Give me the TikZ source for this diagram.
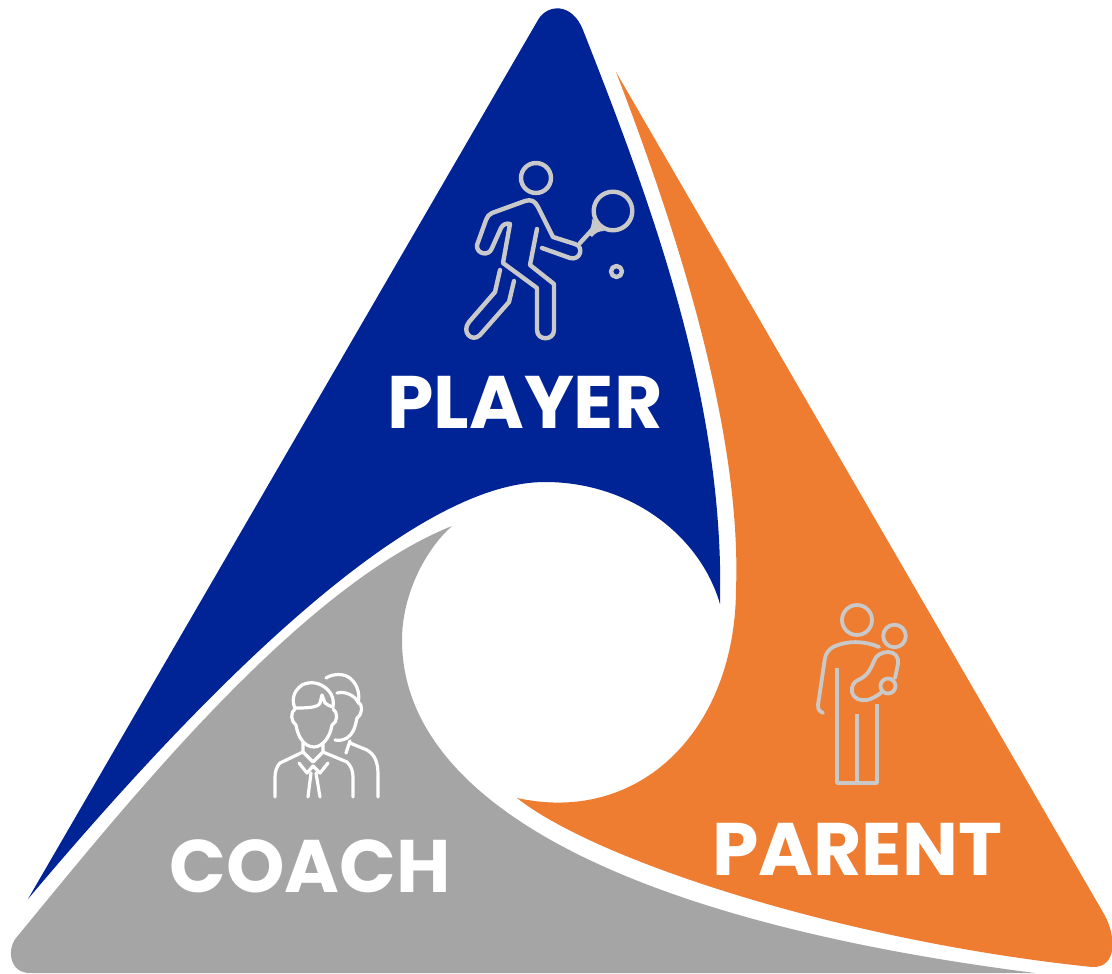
\documentclass[tikz,border=0pt]{standalone}
\usepackage{fontspec}
\setmainfont{Poppins}[BoldFont={Poppins Bold}]
\definecolor{pblue}{HTML}{002395}
\definecolor{porange}{HTML}{EE7D31}
\definecolor{pgray}{HTML}{A5A5A5}
\definecolor{iconline}{HTML}{C9C9C9}
\tikzset{
 label text/.style={text=white,font=\bfseries\fontsize{74.4}{74.4}\selectfont,inner sep=0pt,anchor=center},
 icon/.style={draw=iconline,line width=4.4pt,line cap=round,line join=round,fill=none},
 thinicon/.style={draw=iconline,line width=3.8pt,line cap=round,line join=round,fill=none},
 wicon/.style={draw=white,line width=3.2pt,line cap=round,line join=round,fill=none},
}
\begin{document}
\begin{tikzpicture}[x=1pt,y=-1pt]
\useasboundingbox (0,0) rectangle (1112,974);
\fill[white] (0,0) rectangle (1112,974);
% blue
\fill[pblue] (28,899) -- (538,20) .. controls (547,4) and (572,2) .. (583,30)
 .. controls (650,200) and (725,400) .. (720,604)
 .. controls (700,535) and (630,482) .. (545,482)
 .. controls (440,482) and (273,608) .. (28,899) -- cycle;
% orange
\fill[porange] (616,72) -- (1104,914) .. controls (1116,935) and (1118,968) .. (1092,967)
 .. controls (842,941) and (595,860) .. (517,798)
 .. controls (640,825) and (735,730) .. (736,590)
 .. controls (742,430) and (675,225) .. (616,72) -- cycle;
% gray
\fill[pgray] (452,526) .. controls (425,550) and (402,595) .. (402,640)
 .. controls (402,800) and (620,920) .. (1035,973)
 -- (30,973) .. controls (9,973) and (7,949) .. (16,938)
 .. controls (120,812) and (297,588) .. (452,526) -- cycle;
% labels
\node[label text] (player) at (525,402) {PLAYER};
\node[label text] (parent) at (857,849) {PARENT};
\node[label text] (coach) at (310,866) {COACH};
% player icon
\draw[icon] (536,178) circle (15);
\draw[icon] (613,211) circle (19.3);
\draw[icon] (616.5,271.5) circle (5.5);
\draw[icon] (500,270) -- (495,292) -- (469,322) .. controls (461,332) and (472,343) .. (480,335) -- (509,302) -- (514,281);
\draw[icon] (542,248) -- (570,258) .. controls (581,261) and (584,246) .. (575,244) -- (553,237) -- (538,207) .. controls (535,201) and (531,199) .. (525,201) -- (492,213) .. controls (489,214) and (487,217) .. (486,220) -- (477,245) .. controls (476,254) and (489,257) .. (492,248) -- (501,228) .. controls (503,224) and (507,223) .. (510,224) -- (503,263) -- (537,288) -- (537,330) .. controls (537,341) and (554,341) .. (554,330) -- (554,284) -- (530,265) -- (537,229);
\draw[icon] (580,243) -- (591,231);
\fill[iconline] (587,233) .. controls (591,229) and (592,225) .. (592,219) -- (604,231) .. controls (599,231) and (595,233) .. (592,237) -- cycle;
% parent icon
\draw[thinicon] (857,620) circle (15);
\draw[thinicon] (894.5,636) circle (11.3);
\draw[thinicon] (888,686) circle (7.5);
\draw[thinicon] (879,647) .. controls (865,641) and (848,640) .. (833,647) .. controls (828,650) and (826,654) .. (825,658) -- (818,705) .. controls (818,710) and (820,712) .. (823,713);
\draw[thinicon,line cap=butt] (837,668) -- (837,783) -- (877,783) -- (877,704);
\draw[thinicon,line cap=butt] (857,714) -- (857,783);
\draw[thinicon] (882,692) .. controls (877,696) and (872,699) .. (867,700) .. controls (860,701) and (854,699) .. (852,692) .. controls (851,686) and (854,682) .. (858,680) .. controls (868,676) and (871,668) .. (874,661) .. controls (876,655) and (882,652) .. (888,652) .. controls (895,652) and (899,657) .. (898,664) -- (895,678);
% coach icon
\draw[wicon] (326,678) .. controls (332,674) and (345,672) .. (352,680) .. controls (358,686) and (360,695) .. (358,703);
\draw[wicon] (337,693) .. controls (345,691) and (354,695) .. (358,702) .. controls (363,704) and (363,714) .. (357,718);
\draw[wicon] (357,718) .. controls (355,728) and (353,734) .. (347,738) .. controls (343,740) and (339,741) .. (335,740);
\draw[wicon] (350,741) -- (346,753);
\draw[wicon] (350,743) -- (367,750) .. controls (375,755) and (378,762) .. (378,775) -- (378,797);
\draw[wicon] (295,708) .. controls (292,702) and (292,692) .. (302,685) .. controls (310,681) and (320,682) .. (328,690) .. controls (333,695) and (334,701) .. (333,707);
\draw[wicon] (295,708) .. controls (305,708) and (318,708) .. (320,703) -- (322,695) -- (325,703) .. controls (327,705) and (330,706) .. (333,707);
\draw[wicon] (295,709) .. controls (290,712) and (291,722) .. (296,725) .. controls (298,738) and (305,747) .. (314,747) .. controls (322,747) and (330,738) .. (332,725) .. controls (338,722) and (338,712) .. (333,709);
\draw[wicon] (303,743) -- (303,752) -- (280,763) .. controls (277,766) and (275,771) .. (275,777) -- (275,797);
\draw[wicon] (323,743) -- (323,752) -- (347,762) .. controls (351,766) and (353,771) .. (353,777) -- (353,797);
\draw[wicon] (303,752) -- (313,762) -- (323,752);
\draw[wicon] (299,763) -- (307,773) -- (313,766) -- (320,773) -- (328,763);
\draw[wicon] (311,773) -- (308,797);
\draw[wicon] (316,773) -- (320,797);
\end{tikzpicture}
\end{document}
